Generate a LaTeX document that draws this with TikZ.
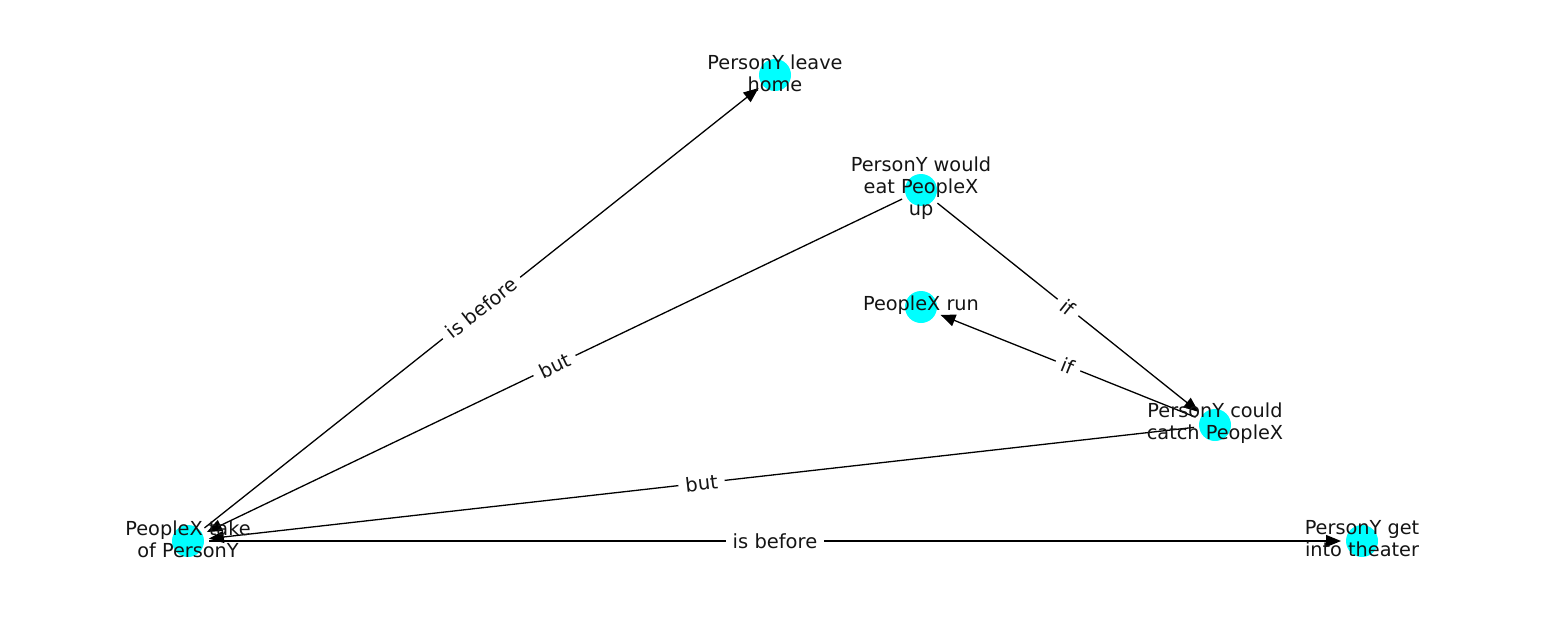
\documentclass[tikz,border=0pt]{standalone}
\usepackage{fontspec}
\setmainfont{DejaVu Sans}
\usetikzlibrary{arrows.meta}
\definecolor{nodecyan}{RGB}{0,255,255}
\definecolor{txt}{RGB}{20,20,20}
\tikzset{
  dot/.style={circle, fill=nodecyan, draw=none, minimum size=32pt, inner sep=0pt, outer sep=5pt},
  lbl/.style={align=center, text=txt, font=\fontsize{19.3}{22}\selectfont, inner sep=0pt, yshift=2pt},
  edge/.style={draw=black, line width=1.3pt, -{Triangle[length=15pt,width=12pt]}},
  elbl/.style={fill=white, text=txt, font=\fontsize{19.5}{22}\selectfont, sloped, inner sep=7pt, pos=0.5}
}
\begin{document}
\begin{tikzpicture}[x=1pt,y=-1pt]
\useasboundingbox (0,0) rectangle (1550,616);
\node[dot] (leave) at (775,75) {};
\node[dot] (eat) at (921,190) {};
\node[dot] (run) at (921,307) {};
\node[dot] (catch) at (1215,425) {};
\node[dot] (take) at (188,541) {};
\node[dot] (theater) at (1362,541) {};

\draw[edge] (take) -- node[elbl] {is before} (leave);
\draw[edge] (eat) -- node[elbl] {but} (take);
\draw[edge] (eat) -- node[elbl] {if} (catch);
\draw[edge] (catch) -- node[elbl] {if} (run);
\draw[edge] (catch) -- node[elbl] {but} (take);
\draw[edge] (take) -- node[elbl] {is before} (theater);

\node[lbl] (leaveT) at (775,75) {PersonY leave\\home};
\node[lbl] (eatT) at (921,190) {PersonY would\\eat PeopleX\\up};
\node[lbl] (runT) at (921,307) {PeopleX run};
\node[lbl] (catchT) at (1215,425) {PersonY could\\catch PeopleX};
\node[lbl] (takeT) at (188,541) {PeopleX take\\of PersonY};
\node[lbl] (theaterT) at (1362,541) {PersonY get\\into theater};
\end{tikzpicture}
\end{document}
